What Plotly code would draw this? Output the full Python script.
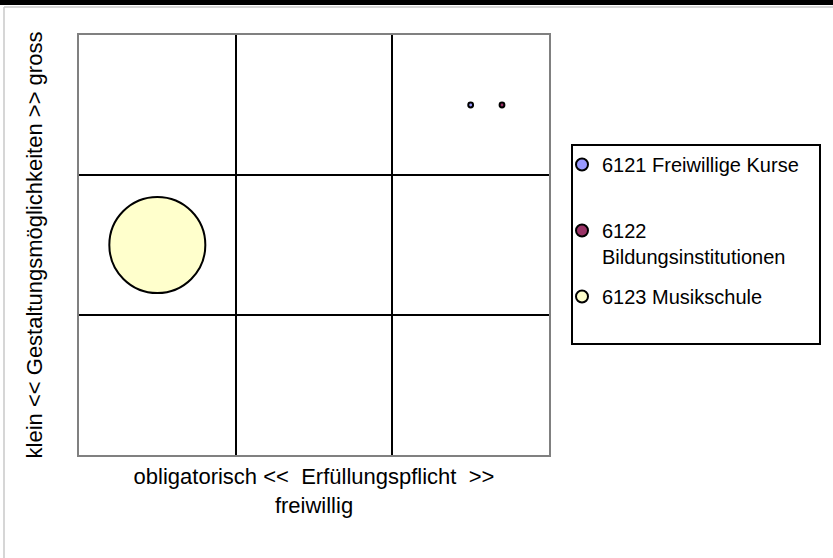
import plotly.graph_objects as go

# --- Daten ---
names = ["6121 Freiwillige Kurse<br> ", "6122<br>Bildungsinstitutionen", "6123 Musikschule<br> "]
x_pflicht = [2.5, 2.7, 0.5]
y_gestaltung = [2.5, 2.5, 1.5]
bubble_size = [1, 1, 400]
colors = ["#9999FF", "#993366", "#FFFFCC"]
groups = ["a", "b", "c"]

W, H = 833, 558
L, R, T, B = 79, 284, 35, 103
PW, PH = W - L - R, H - T - B


def px_x(p):
    return (p - L) / PW


def px_y(p):
    return (H - B - p) / PH


fig = go.Figure()

for name, x, y, s, c, g in zip(names, x_pflicht, y_gestaltung, bubble_size, colors, groups):
    fig.add_trace(
        go.Scatter(
            x=[x],
            y=[y],
            name=name,
            mode="markers",
            legendgroup=g,
            marker=dict(
                size=[s],
                sizemode="area",
                sizeref=2 * 400 / (96**2),
                color=c,
                opacity=1,
                line=dict(color="black", width=2),
            ),
        )
    )

axis_style = dict(
    range=[0, 3],
    dtick=1,
    showticklabels=False,
    ticks="",
    showgrid=True,
    gridcolor="black",
    gridwidth=2,
    zeroline=False,
    showline=True,
    mirror=True,
    linecolor="#808080",
    linewidth=2,
    fixedrange=True,
)

fig.update_layout(
    width=W,
    height=H,
    margin=dict(l=L, r=R, t=T, b=B),
    paper_bgcolor="white",
    plot_bgcolor="white",
    font=dict(family="Liberation Sans, Arial", size=18, color="black"),
    xaxis=dict(
        axis_style,
        title=dict(text="obligatorisch <<  Erfüllungspflicht  >><br>freiwillig", standoff=13),
    ),
    yaxis=dict(
        axis_style,
        title=dict(text="klein << Gestaltungsmöglichkeiten >> gross", standoff=28),
    ),
    showlegend=True,
    legend=dict(
        x=px_x(562),
        y=px_y(145),
        xanchor="left",
        yanchor="top",
        borderwidth=0,
        bgcolor="rgba(0,0,0,0)",
        itemsizing="constant",
        valign="top",
        tracegroupgap=11,
        font=dict(size=20),
    ),
    shapes=[
        # schwarzer Balken oben
        dict(type="rect", xref="paper", yref="paper",
             x0=px_x(-5), x1=px_x(W + 5), y0=px_y(5), y1=px_y(0),
             fillcolor="black", line=dict(width=0), layer="above"),
        # grauer Rahmen
        dict(type="line", xref="paper", yref="paper",
             x0=px_x(4), x1=px_x(W + 5), y0=px_y(7), y1=px_y(7),
             line=dict(color="#c8c8c8", width=1.5)),
        dict(type="line", xref="paper", yref="paper",
             x0=px_x(4), x1=px_x(4), y0=px_y(7), y1=px_y(H + 5),
             line=dict(color="#c8c8c8", width=1.5)),
        # Legendenrahmen
        dict(type="rect", xref="paper", yref="paper",
             x0=px_x(572), x1=px_x(820), y0=px_y(344), y1=px_y(145),
             line=dict(color="black", width=2), fillcolor="rgba(0,0,0,0)"),
    ],
)

fig.write_html(
    "out.html",
    config={"displayModeBar": False},
    post_script="document.body.style.margin='0';",
)
